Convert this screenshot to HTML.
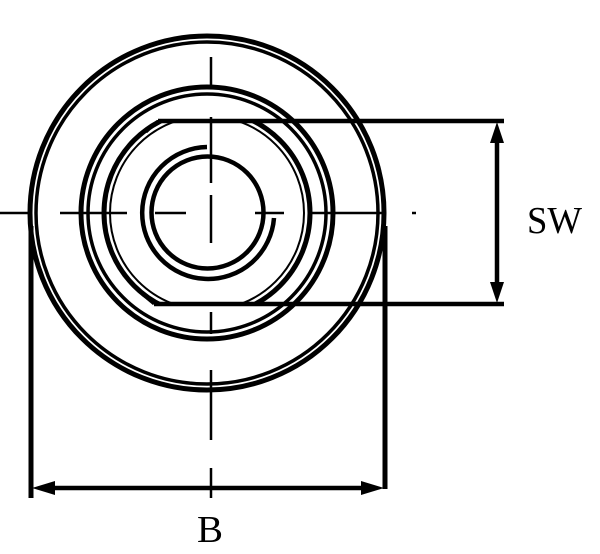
<!DOCTYPE html>
<html><head><style>html,body{margin:0;padding:0;background:#fff;width:600px;height:554px;overflow:hidden}</style></head>
<body>
<svg width="600" height="554" viewBox="0 0 600 554" xmlns="http://www.w3.org/2000/svg">
<defs><clipPath id="hc"><rect x="0" y="120" width="600" height="184"/></clipPath></defs>
<g fill="none" stroke="#000">
<circle cx="207" cy="213" r="177" stroke-width="5"/>
<circle cx="207" cy="213" r="171" stroke-width="3.5"/>
<circle cx="207" cy="213" r="126" stroke-width="5"/>
<circle cx="207" cy="213" r="119" stroke-width="3.5"/>
<g clip-path="url(#hc)">
<circle cx="207" cy="213" r="103" stroke-width="5"/>
<circle cx="207" cy="213" r="97" stroke-width="2"/>
</g>
<circle cx="207.5" cy="212.5" r="56" stroke-width="4.5"/>
<path d="M207,147 A66,66 0 1 0 274,218" stroke-width="4.5"/>
<line x1="158" y1="121" x2="504" y2="121" stroke-width="4.5"/>
<line x1="154" y1="304" x2="504" y2="304" stroke-width="4.5"/>
<line x1="158" y1="121" x2="146" y2="132" stroke-width="3"/>
<line x1="154" y1="304" x2="142" y2="294" stroke-width="3"/>
<g stroke-width="2.5">
<line x1="211" y1="57" x2="211" y2="85"/>
<line x1="211" y1="117" x2="211" y2="183"/>
<line x1="211" y1="195" x2="211" y2="243"/>
<line x1="211" y1="312" x2="211" y2="334"/>
<line x1="211" y1="370" x2="211" y2="440"/>
<line x1="211" y1="468" x2="211" y2="498"/>
<line x1="0" y1="213" x2="28" y2="213"/>
<line x1="60" y1="213" x2="127" y2="213"/>
<line x1="155" y1="213" x2="186" y2="213"/>
<line x1="255" y1="213" x2="284" y2="213"/>
<line x1="310" y1="213" x2="383" y2="213"/>
<line x1="412" y1="213" x2="416" y2="213"/>
</g>
<line x1="31" y1="226" x2="31" y2="498" stroke-width="5"/>
<line x1="385" y1="226" x2="385" y2="489" stroke-width="5"/>
<line x1="40" y1="488" x2="376" y2="488" stroke-width="4.5"/>
<line x1="497" y1="130" x2="497" y2="295" stroke-width="4.5"/>
</g>
<g fill="#000">
<polygon points="32,488 55,481 55,495"/>
<polygon points="384,488 361,481 361,495"/>
<polygon points="497,122 490,143 504,143"/>
<polygon points="497,303 490,282 504,282"/>
</g>
<text x="527" y="233" font-family="Liberation Serif, serif" font-size="38" textLength="55" lengthAdjust="spacingAndGlyphs">SW</text>
<text x="197" y="542" font-family="Liberation Serif, serif" font-size="38" textLength="26" lengthAdjust="spacingAndGlyphs">B</text>
</svg>
</body></html>
